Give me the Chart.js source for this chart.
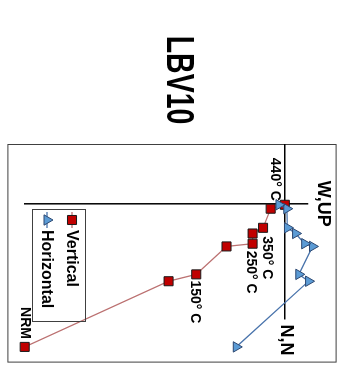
<!DOCTYPE html>
<html>
<head>
<meta charset="utf-8">
<script src="https://cdn.jsdelivr.net/npm/chart.js@4/dist/chart.umd.min.js"></script>
<style>
  html, body { margin: 0; padding: 0; background: #fff; overflow: hidden; }
  /* the plot is laid out landscape, then turned a quarter clockwise */
  #wrap {
    position: absolute; left: 0; top: 0;
    width: 370px; height: 344px;
    transform-origin: 0 0;
    transform: translate(344px, 0) rotate(90deg);
  }
  canvas { display: block; }
</style>
</head>
<body>
<div id="wrap"><canvas id="zij" width="370" height="344"></canvas></div>
<script>
// Demagnetisation steps of specimen LBV10 (orthogonal vector plot)
const stepLabels = ['NRM', '', '150° C', '', '250° C', '', '350° C', '', '440° C'];
const north      = [14.6, 7.9, 7.2, 4.35, 4.07, 3.03, 2.45, 0.5, 0.1];
const up         = [-26.63, -11.9, -9.07, -5.97, -3.3, -3.3, -2.23, -1.45, 0.0];
const west       = [-4.97, 2.43, 1.43, 2.83, 2.03, 1.1, 0.27, 0.2, -0.6];

// label nudges in pixels (dx, dy) and alignment, per step
const labelPlacement = [
  { align: 'right', dx: -8, dy: 0 },
  null,
  { align: 'left', dx: 6, dy: 1 },
  null,
  { align: 'left', dx: 7, dy: 2 },
  null,
  { align: 'left', dx: 8.5, dy: -4 },
  null,
  { align: 'right', dx: -4, dy: 10 }
];

// extent of the drawn axes, in data units
const nAxisRange  = [-6.1, 11.8];
const upAxisRange = [2.4, -26.7];

const FONT = '"Liberation Sans", Arial, sans-serif';

// draw text squeezed horizontally around its anchor
function condensedText(ctx, txt, x, y, squeeze) {
  ctx.save();
  ctx.translate(x, y);
  ctx.scale(squeeze, 1);
  ctx.fillText(txt, 0, 0);
  ctx.restore();
}

const zijPlugin = {
  id: 'zij',
  beforeDatasetsDraw(chart) {
    const { ctx, chartArea: a, scales: { x, y } } = chart;
    ctx.save();
    // frame
    ctx.strokeStyle = '#404040';
    ctx.lineWidth = 1;
    ctx.strokeRect(a.left + 0.5, a.top + 0.5, a.width - 1, a.height - 1);
    // axes through the origin
    ctx.strokeStyle = '#000';
    ctx.lineWidth = 1.5;
    ctx.beginPath();
    ctx.moveTo(x.getPixelForValue(nAxisRange[0]), y.getPixelForValue(0));
    ctx.lineTo(x.getPixelForValue(nAxisRange[1]), y.getPixelForValue(0));
    ctx.moveTo(x.getPixelForValue(0), y.getPixelForValue(upAxisRange[0]));
    ctx.lineTo(x.getPixelForValue(0), y.getPixelForValue(upAxisRange[1]));
    ctx.stroke();
    // axis names
    ctx.fillStyle = '#000';
    ctx.font = 'bold 18px ' + FONT;
    ctx.textAlign = 'left';
    ctx.textBaseline = 'middle';
    ctx.fillText('N,N', x.getPixelForValue(nAxisRange[1]) + 5, y.getPixelForValue(0) - 1);
    ctx.textAlign = 'center';
    ctx.textBaseline = 'alphabetic';
    ctx.fillText('W,UP', x.getPixelForValue(0), y.getPixelForValue(upAxisRange[0]) - 10);
    // title
    ctx.font = 'bold 38px ' + FONT;
    ctx.textAlign = 'center';
    ctx.textBaseline = 'middle';
    condensedText(ctx, 'LBV10', 80, 167, 0.75);
    ctx.restore();
  },
  afterDatasetsDraw(chart) {
    const { ctx, scales: { x, y } } = chart;
    ctx.save();
    // step labels on the vertical projection
    ctx.fillStyle = '#000';
    ctx.font = 'bold 14px ' + FONT;
    ctx.textBaseline = 'middle';
    stepLabels.forEach((txt, i) => {
      const p = labelPlacement[i];
      if (!txt || !p) return;
      ctx.textAlign = p.align;
      ctx.fillText(txt, x.getPixelForValue(north[i]) + p.dx, y.getPixelForValue(up[i]) + p.dy);
    });

    // legend
    const box = { left: 209, top: 258, width: 112, height: 53 };
    ctx.strokeStyle = '#404040';
    ctx.lineWidth = 1;
    ctx.strokeRect(box.left + 0.5, box.top + 0.5, box.width, box.height);
    ctx.font = 'bold 16px ' + FONT;
    ctx.textAlign = 'left';
    ctx.textBaseline = 'middle';
    const rows = [chart.data.datasets[1], chart.data.datasets[0]];
    rows.forEach((ds, r) => {
      const cy = box.top + 14 + r * 25;
      const cx = box.left + 11;
      ctx.strokeStyle = ds.borderColor;
      ctx.lineWidth = ds.borderWidth;
      ctx.beginPath();
      ctx.moveTo(cx - 8, cy);
      ctx.lineTo(cx + 8, cy);
      ctx.stroke();
      ctx.fillStyle = ds.pointBackgroundColor;
      ctx.strokeStyle = ds.pointBorderColor;
      ctx.lineWidth = ds.pointBorderWidth;
      Chart.helpers.drawPoint(ctx, { pointStyle: ds.pointStyle, radius: ds.pointRadius, borderWidth: ds.pointBorderWidth, rotation: 0 }, cx, cy);
      ctx.fillStyle = '#000';
      ctx.fillText(ds.label, cx + 10, cy + 1);
    });
    ctx.restore();
  }
};

new Chart(document.getElementById('zij'), {
  type: 'scatter',
  data: {
    datasets: [
      {
        label: 'Horizontal',
        order: 0,
        data: north.map((n, i) => ({ x: n, y: west[i] })),
        showLine: true,
        borderColor: '#4A74AC',
        borderWidth: 1.3,
        pointStyle: 'triangle',
        pointRadius: 6,
        pointBackgroundColor: '#5B9BD5',
        pointBorderColor: '#2C4770',
        pointBorderWidth: 1
      },
      {
        label: 'Vertical',
        order: 1,
        data: north.map((n, i) => ({ x: n, y: up[i] })),
        showLine: true,
        borderColor: '#BC7272',
        borderWidth: 1.3,
        pointStyle: 'rect',
        pointRadius: 6.4,
        pointBackgroundColor: '#C00000',
        pointBorderColor: '#1A1A1A',
        pointBorderWidth: 1
      }
    ]
  },
  options: {
    responsive: false,
    animation: false,
    devicePixelRatio: 1,
    layout: { padding: { left: 144, right: 3, top: 2, bottom: 5 } },
    scales: {
      x: { type: 'linear', min: -6.1, max: 16.2, display: false },
      y: { type: 'linear', min: -28.4, max: 5.3, display: false }
    },
    plugins: { legend: { display: false }, tooltip: { enabled: false } }
  },
  plugins: [zijPlugin]
});
</script>
</body>
</html>
